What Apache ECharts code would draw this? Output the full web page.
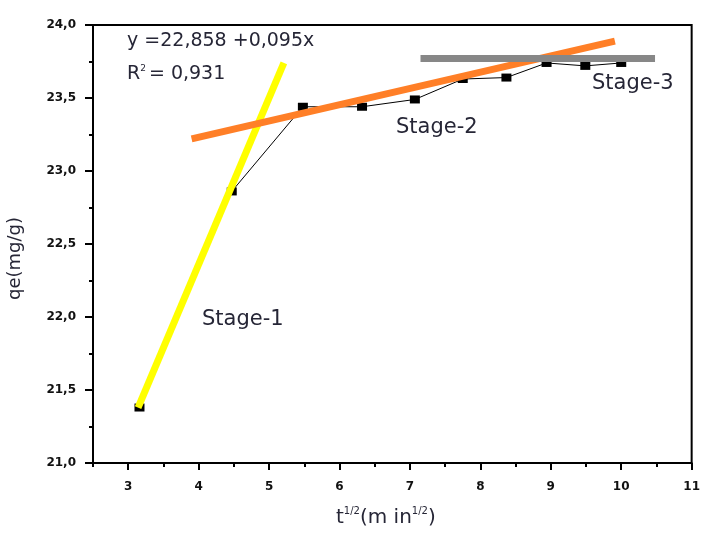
<!DOCTYPE html>
<html>
<head>
<meta charset="utf-8">
<script src="https://cdn.jsdelivr.net/npm/echarts@6/dist/echarts.min.js"></script>
<style>
  html, body { margin: 0; padding: 0; background: #fff; }
  #main { width: 703px; height: 537px; }
</style>
</head>
<body>
<div id="main"></div>
<script>
// 测量数据 (t^1/2 vs qe)
const tSqrt = [3.16, 4.47, 5.48, 6.32, 7.07, 7.75, 8.37, 8.94, 9.49, 10.0];
const qe = [21.38, 22.86, 23.44, 23.44, 23.49, 23.63, 23.64, 23.74, 23.72, 23.74];

// 三个阶段的拟合直线 (端点)
const stage1X = [3.14, 5.21];
const stage1Y = [21.38, 23.74];
const stage2X = [3.90, 9.91];
const stage2Y = [23.22, 23.89];
const stage3X = [7.15, 10.48];
const stage3Y = [23.77, 23.77];

// 刻度
const xMajor = [3, 4, 5, 6, 7, 8, 9, 10, 11];

const zip = (xs, ys) => xs.map((x, i) => [x, ys[i]]);

const font = 'DejaVu Sans';
const txtColor = '#262636';

const myChart = echarts.init(document.getElementById('main'));

const option = {
  animation: false,
  grid: {
    left: 93, right: 3, top: 25, bottom: 74,
    show: true, borderColor: '#000', borderWidth: 2, backgroundColor: 'transparent'
  },
  xAxis: [
    {
      type: 'value', min: 2.5, max: 11, interval: 0.5, position: 'bottom',
      axisLine: { show: true, lineStyle: { color: '#000', width: 2 } },
      axisTick: { show: true, customValues: xMajor, length: 7, lineStyle: { color: '#000', width: 2 } },
      axisLabel: {
        customValues: xMajor, margin: 18, color: '#111', fontFamily: font,
        fontSize: 12, fontWeight: 'bold'
      },
      splitLine: { show: false }
    },
    {
      type: 'value', min: 2.5, max: 11, interval: 0.5, position: 'bottom',
      axisLine: { show: false },
      axisTick: { show: true, length: 4, lineStyle: { color: '#000', width: 2 } },
      axisLabel: { show: false },
      splitLine: { show: false }
    }
  ],
  yAxis: {
    type: 'value', min: 21, max: 24, interval: 0.5,
    axisLine: { show: true, lineStyle: { color: '#000', width: 2 } },
    axisTick: { show: true, length: 8, lineStyle: { color: '#000', width: 2 } },
    minorTick: { show: true, splitNumber: 2, length: 4, lineStyle: { color: '#000', width: 2 } },
    axisLabel: {
      margin: 17, color: '#111', fontFamily: font, fontSize: 12, fontWeight: 'bold',
      formatter: v => v.toFixed(1).replace('.', ',')
    },
    splitLine: { show: false }
  },
  series: [
    {
      type: 'line', data: zip(tSqrt, qe), symbol: 'rect', symbolSize: [10, 8],
      itemStyle: { color: '#000' }, lineStyle: { color: '#000', width: 1 }, z: 2
    },
    {
      type: 'line', data: zip(stage1X, stage1Y), symbol: 'none',
      lineStyle: { color: '#ffff00', width: 7 }, z: 3
    },
    {
      type: 'line', data: zip(stage2X, stage2Y), symbol: 'none',
      lineStyle: { color: '#ff7f27', width: 7 }, z: 4
    },
    {
      type: 'line', data: zip(stage3X, stage3Y), symbol: 'none',
      lineStyle: { color: '#878787', width: 7 }, z: 5
    }
  ],
  graphic: [
    { type: 'text', left: 127, top: 32, style: { text: 'y =22,858 +0,095x', font: '19px "DejaVu Sans"', fill: txtColor } },
    { type: 'text', left: 127, top: 64, style: {
        text: '{a|R}{s|2}{a|= 0,931}', fill: txtColor,
        rich: { a: { font: '19px "DejaVu Sans"', fill: txtColor }, s: { font: '9px "DejaVu Sans"', fill: txtColor, padding: [0, 3, 12, 0] } }
      } },
    { type: 'text', left: 202, top: 309, style: { text: 'Stage-1', font: '21px "DejaVu Sans"', fill: txtColor } },
    { type: 'text', left: 396, top: 117, style: { text: 'Stage-2', font: '21px "DejaVu Sans"', fill: txtColor } },
    { type: 'text', left: 592, top: 73, style: { text: 'Stage-3', font: '21px "DejaVu Sans"', fill: txtColor } },
    { type: 'text', x: 6, y: 300, rotation: Math.PI / 2, style: { text: 'qe(mg/g)', font: '18px "DejaVu Sans"', fill: txtColor } },
    { type: 'text', left: 336, top: 506, style: {
        text: '{a|t}{s|1/2}{a|(m in}{s|1/2}{a|)}', fill: txtColor,
        rich: { a: { font: '20px "DejaVu Sans"', fill: txtColor }, s: { font: '10px "DejaVu Sans"', fill: txtColor, padding: [0, 0, 14, 0] } }
      } }
  ]
};

myChart.setOption(option);
</script>
</body>
</html>
